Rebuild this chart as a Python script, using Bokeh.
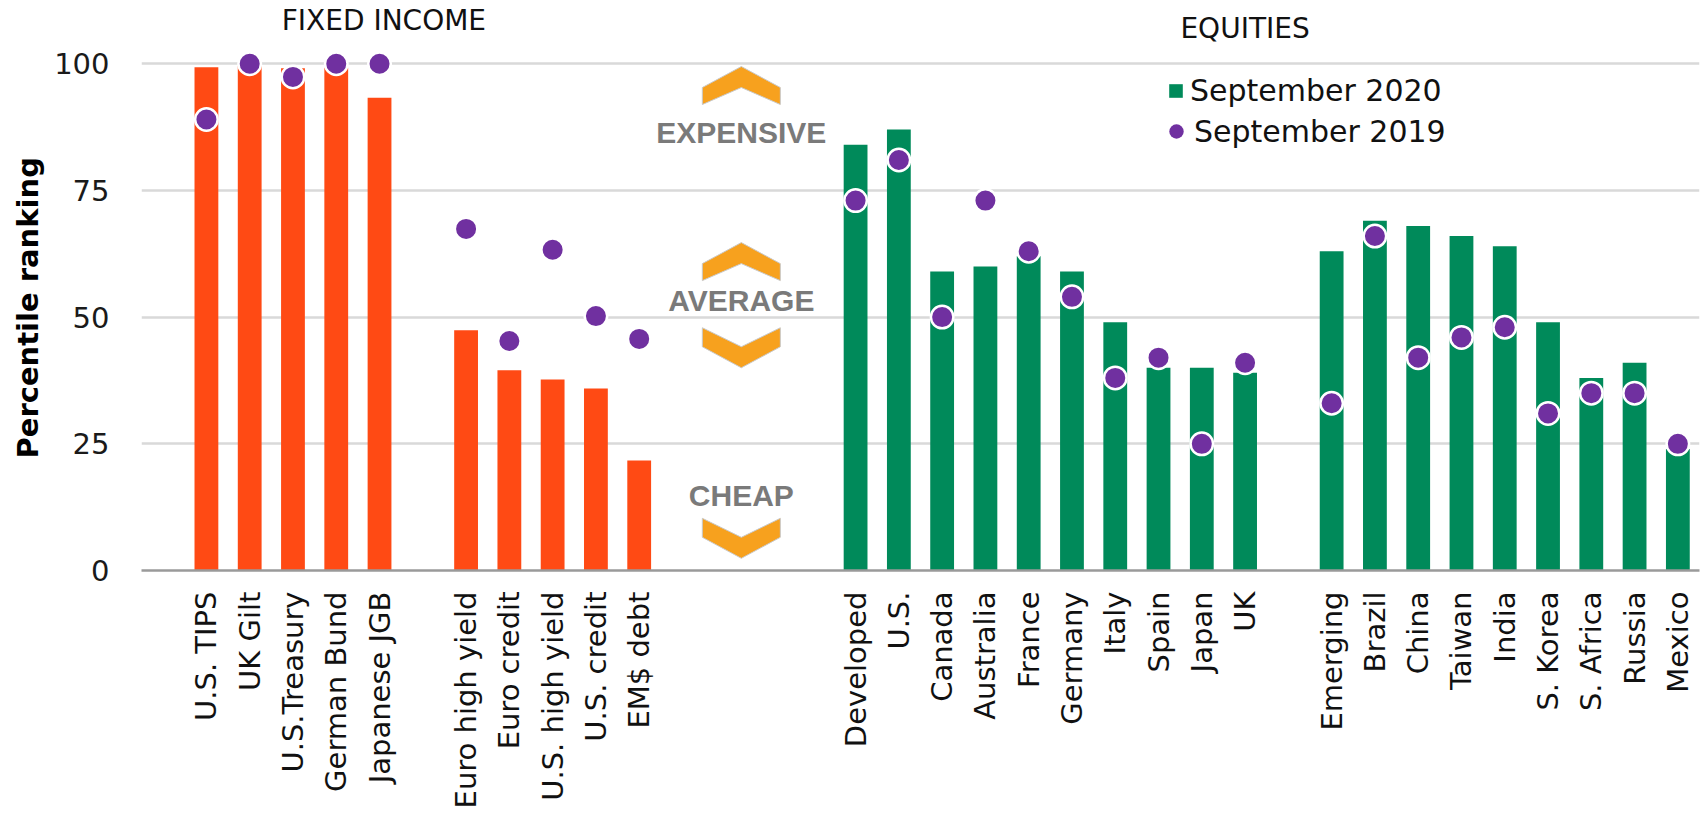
import math
from bokeh.plotting import figure
from bokeh.models import Range1d, FixedTicker, Legend, LegendItem, Label, Title
from bokeh.embed import file_html
from bokeh.resources import INLINE
from bokeh.core.properties import value

# ---------------- data ----------------
govt = ["U.S. TIPS", "UK Gilt", "U.S.Treasury", "German Bund", "Japanese JGB"]
govt_2020 = [99.3, 99.6, 99.1, 99.2, 93.3]
govt_2019 = [89.0, 100.0, 97.4, 100.0, 100.0]

credit = ["Euro high yield", "Euro credit", "U.S. high yield", "U.S. credit", "EM$ debt"]
credit_2020 = [47.4, 39.5, 37.7, 35.9, 21.7]
credit_2019 = [67.4, 45.3, 63.3, 50.2, 45.7]

developed = ["Developed", "U.S.", "Canada", "Australia", "France", "Germany",
             "Italy", "Spain", "Japan", "UK"]
developed_2020 = [84, 87, 59, 60, 62, 59, 49, 40, 40, 39]
developed_2019 = [73, 81, 50, 73, 63, 54, 38, 42, 25, 41]

emerging = ["Emerging", "Brazil", "China", "Taiwan", "India", "S. Korea",
            "S. Africa", "Russia", "Mexico"]
emerging_2020 = [63, 69, 68, 66, 64, 49, 38, 41, 24]
emerging_2019 = [33, 66, 42, 46, 48, 31, 35, 35, 25]

y_ticks = [0, 25, 50, 75, 100]

# ---------------- layout of categories (empty slots between groups) ----------------
groups = [govt, credit, developed, emerging]
gaps_before = [1, 1, 4, 1]
positions = []
pos = 0
for g, gap in zip(groups, gaps_before):
    pos += gap
    positions.append(list(range(pos, pos + len(g))))
    pos += len(g)
n_slots = pos

fi_x = positions[0] + positions[1]
fi_names = govt + credit
fi_2020 = govt_2020 + credit_2020
fi_2019 = govt_2019 + credit_2019
eq_x = positions[2] + positions[3]
eq_names = developed + emerging
eq_2020 = developed_2020 + emerging_2020
eq_2019 = developed_2019 + emerging_2019

ORANGE = "#FF4A14"
GREEN = "#008A5A"
PURPLE = "#7030A0"
CHEV = "#F7A11E"

FRAME_W, FRAME_H = 1558, 562
Y_MAX = 110.9

p = figure(width=1708, height=818, output_backend="svg", toolbar_location=None,
           x_range=Range1d(-0.5, n_slots - 0.5), y_range=Range1d(0, Y_MAX),
           min_border_left=141, min_border_right=9, min_border_top=8,
           min_border_bottom=248)
p.outline_line_color = None
p.background_fill_color = "white"

# axes
p.xgrid.visible = False
p.ygrid.ticker = FixedTicker(ticks=y_ticks)
p.ygrid.grid_line_color = "#D9D9D9"
p.ygrid.grid_line_width = 2.3

p.yaxis.ticker = FixedTicker(ticks=y_ticks)
p.yaxis.axis_line_color = None
p.yaxis.major_tick_line_color = None
p.yaxis.minor_tick_line_color = None
p.yaxis.major_tick_out = 0
p.yaxis.major_tick_in = 0
p.yaxis.major_label_standoff = 32
p.yaxis.major_label_text_font = "DejaVu Sans"
p.yaxis.major_label_text_font_size = "29px"
p.yaxis.major_label_text_color = "#1A1A1A"

# y-axis title, placed as a side title so it can sit centred on the 0-100 span
p.add_layout(Title(text="Percentile ranking", align="left", offset=112, standoff=14,
                   text_font="DejaVu Sans", text_font_style="bold",
                   text_font_size="29px", text_color="#000000"), "left")

all_x = fi_x + eq_x
all_names = fi_names + eq_names
p.xaxis.ticker = FixedTicker(ticks=all_x)
p.xaxis.major_label_overrides = {x: n for x, n in zip(all_x, all_names)}
p.xaxis.major_label_orientation = math.pi / 2
p.xaxis.major_tick_line_color = None
p.xaxis.minor_tick_line_color = None
p.xaxis.major_tick_out = 0
p.xaxis.major_tick_in = 0
p.xaxis.major_label_standoff = 21
p.xaxis.major_label_text_font = "DejaVu Sans"
p.xaxis.major_label_text_font_size = "29px"
p.xaxis.major_label_text_color = "#111111"
p.xaxis.axis_line_color = "#9A9A9A"
p.xaxis.axis_line_width = 2.5

# bars
fi_bars = p.vbar(x=fi_x, top=fi_2020, width=0.55, fill_color=ORANGE, line_color=None)
eq_bars = p.vbar(x=eq_x, top=eq_2020, width=0.55, fill_color=GREEN, line_color=None)

# dots: a plain (ring-less) copy underneath, used for the legend swatch,
# and the white-ringed markers drawn on top of it
legend_dot = p.scatter(x=fi_x + eq_x, y=fi_2019 + eq_2019, size=15, marker="circle",
                       fill_color=PURPLE, line_color=None)
dots = p.scatter(x=fi_x + eq_x, y=fi_2019 + eq_2019, size=22.5, marker="circle",
                 fill_color=PURPLE, line_color="white", line_width=2.5)

# ---------------- valuation guide (chevrons + labels) ----------------
px_x = n_slots / FRAME_W
px_y = Y_MAX / FRAME_H
guide_x = 13.36
up_shape = [(0, 0), (39, -21), (39, -38), (0, -21), (-39, -38), (-39, -21)]
down_shape = [(-39, 0), (0, -19), (39, 0), (39, -19), (0, -40), (-39, -19)]
chevrons = [(up_shape, 99.45), (up_shape, 64.7), (down_shape, 47.9), (down_shape, 10.3)]
cxs, cys = [], []
for shape, top in chevrons:
    cxs.append([guide_x + dx * px_x for dx, dy in shape])
    cys.append([top + dy * px_y for dx, dy in shape])
p.patches(xs=cxs, ys=cys, fill_color=CHEV, line_color="#C9C9C9", line_width=1)

guide_labels = ["EXPENSIVE", "AVERAGE", "CHEAP"]
guide_y = [86.4, 53.2, 14.8]
p.text(x=[guide_x] * 3, y=guide_y, text=guide_labels, text_font=value("Liberation Sans"),
       text_font_size="30px", text_font_style="bold", text_color="#7A7A7A",
       text_align="center", text_baseline="middle")

# group titles
p.add_layout(Label(x=5.1, y=108.5, text="FIXED INCOME", text_font="DejaVu Sans",
                   text_font_size="28px", text_color="#111111", text_align="center",
                   text_baseline="middle"))
p.add_layout(Label(x=25.0, y=107.0, text="EQUITIES", text_font="DejaVu Sans",
                   text_font_size="28px", text_color="#111111", text_align="center",
                   text_baseline="middle"))

# legends
leg_common = dict(padding=0, margin=0, border_line_color=None, background_fill_alpha=0,
                  label_text_font="DejaVu Sans", label_text_font_size="30px",
                  label_text_color="#111111", spacing=0, label_height=17)
leg1 = Legend(items=[LegendItem(label="September 2020", renderers=[eq_bars])],
              location=(1026, 462), glyph_width=17, glyph_height=17, label_standoff=6,
              **leg_common)
leg2 = Legend(items=[LegendItem(label="September 2019", renderers=[legend_dot])],
              location=(1017, 421), glyph_width=36, glyph_height=36, label_standoff=0,
              **leg_common)
p.add_layout(leg1)
p.add_layout(leg2)

open("out.html", "w").write(file_html(p, INLINE))
